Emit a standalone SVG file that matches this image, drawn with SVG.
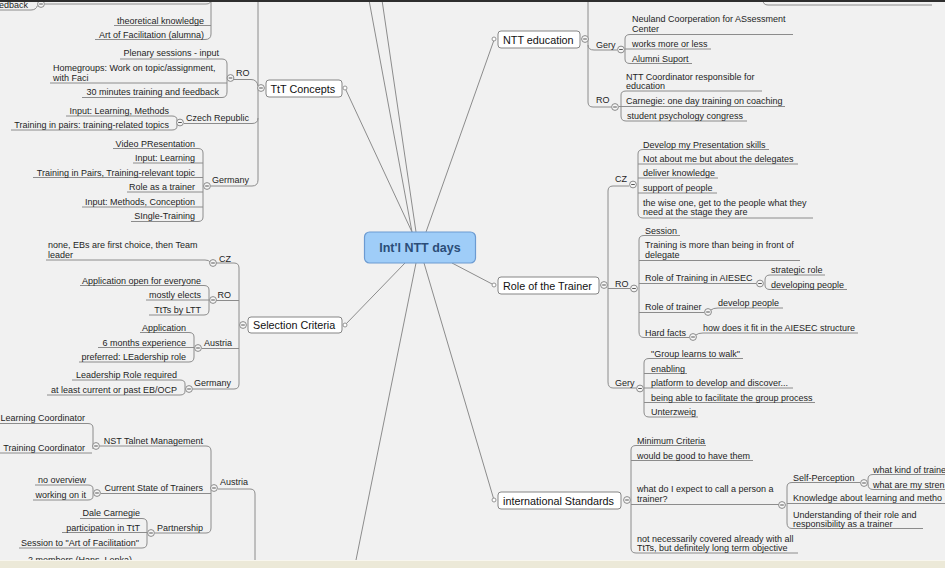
<svg xmlns="http://www.w3.org/2000/svg" xmlns:xlink="http://www.w3.org/1999/xlink" width="945" height="568" viewBox="0 0 945 568">
<style>
.ln path{fill:none;stroke:#8c8c8c;stroke-width:1}
.t{font-family:"Liberation Sans",Arial,sans-serif;font-size:9px;fill:#1e1e1e}
.e{text-anchor:end}
.m{font-family:"Liberation Sans",Arial,sans-serif;font-size:10.8px;fill:#111}
.box{fill:#ffffff;stroke:#858585;stroke-width:1}
.ctr{fill:#9fcdf8;stroke:#6c9bd2;stroke-width:1.2}
.ct{font-family:"Liberation Sans",Arial,sans-serif;font-size:12.5px;font-weight:bold;fill:#2b4d78;text-anchor:middle}
</style>
<defs>
<g id="c"><circle r="3.4" fill="#f6f6f6" stroke="#8a8a8a" stroke-width="1"/><path d="M-1.8,0H1.8" stroke="#555" stroke-width="1"/></g>
<g id="d"><circle r="2" fill="#ffffff" stroke="#8a8a8a" stroke-width="0.9"/></g>
</defs>
<rect width="945" height="568" fill="#f1f1f1"/>

<g id="connectors" class="ln">
<!-- central connectors -->
<path d="M426,232 L494,40"/>
<path d="M412,232 L345,88"/>
<path d="M412,232 L369,0"/>
<path d="M416,232 L382,0"/>
<path d="M405,263 L345,325"/>
<path d="M416,263 L356,560"/>
<path d="M424,263 L494,500"/>
<path d="M452,263 L494,285"/>
<!-- TtT Concepts branch -->
<path d="M258,0 V180 Q258,186 252,186 H211"/>
<path d="M0,10 H31 Q36,10 37.5,5.5"/>
<path d="M45,4 H206 Q211,4 211,0"/>
<path d="M211,0 V34 Q211,39.5 205,39.5 H95"/>
<path d="M114,25.5 H211"/>
<path d="M120,59 H222 Q227,59 227,64 V92 Q227,97.5 222,97.5 H82"/>
<path d="M50,83 H227"/>
<path d="M234,79.5 H251 Q257,79.5 258,86"/>
<path d="M66,116 H172 Q177,116 177,120 V126 Q177,130 172,130 H11"/>
<path d="M184,123.5 H252 Q258,123.5 258,118"/>
<path d="M113,148.5 H198 Q203,148.5 203,153 V217 Q203,221.5 198,221.5 H131"/>
<path d="M133,163 H203"/>
<path d="M33,177.5 H203"/>
<path d="M127,192 H203"/>
<path d="M82,207 H203"/>
<!-- Selection Criteria branch -->
<path d="M239,268 V384 Q239,389 234,389 H193"/>
<path d="M46,260 H205 Q209,260 210,262"/>
<path d="M216,263 H234 Q239,263 239,268"/>
<path d="M80,285.5 H204 Q209,285.5 209,290 V310 Q209,315 204,315 H149"/>
<path d="M146,300 H209"/>
<path d="M216,300.5 H239"/>
<path d="M140,332.5 H189 Q194,332.5 194,337 V357 Q194,362 189,362 H79"/>
<path d="M98,347.5 H194"/>
<path d="M202,348.5 H239"/>
<path d="M72,380 H180 Q185,380 185,384 V391 Q185,395 180,395 H47"/>
<!-- bottom-left Austria branch -->
<path d="M0,423.5 H88 Q93,423.5 93,428 V449"/>
<path d="M0,453 H92"/>
<path d="M100,446 H206 Q211,446 211,451 V528 Q211,533 206,533 H155"/>
<path d="M35,485 H88 Q93,485 93,489 V496 Q93,500 88,500 H33"/>
<path d="M101,493.5 H211"/>
<path d="M80,518.5 H142 Q147,518.5 147,523 V543 Q147,548 142,548 H19"/>
<path d="M62,532.5 H147"/>
<path d="M218,489 H250 Q255,489 255,494 V560"/>
<!-- NTT education branch -->
<path d="M588,0 V102 Q588,107 593,107 H611"/>
<path d="M588,45 Q588,50 594,50 H617"/>
<path d="M630,34.5 H793"/>
<path d="M630,34.5 Q625,34.5 625,39 V59 Q625,63.5 630,63.5 H692"/>
<path d="M625,49 H711"/>
<path d="M626,91 Q621,91 621,95 V116 Q621,121 626,121 H747"/>
<path d="M626,91 H762"/>
<path d="M619,106.5 H785"/>
<path d="M763,0 Q763,5 768,5 H932"/>
<!-- Role of the Trainer branch -->
<path d="M629,186 H613 Q608,186 608,191 V382 Q608,388 613,388 H636"/>
<path d="M608,288.5 H630"/>
<path d="M643,149.5 Q638,149.5 638,154 V213 Q638,218 643,218 H813"/>
<path d="M643,149.5 H769"/>
<path d="M638,164 H798"/>
<path d="M638,178 H718"/>
<path d="M638,193 H717"/>
<path d="M644,235.5 Q639,235.5 639,240 V332 Q639,337.5 644,337.5 H689"/>
<path d="M644,235.5 H680"/>
<path d="M639,260.5 H800"/>
<path d="M639,283.5 H756"/>
<path d="M639,312.5 H704"/>
<path d="M770,275 Q765,275 765,280 V285 Q765,289.5 770,289.5 H847"/>
<path d="M770,275 H825"/>
<path d="M711,310 Q713,308 718,308 H783"/>
<path d="M696,335 Q698,333 703,333 H858"/>
<path d="M649,358.5 Q644,358.5 644,363 V412 Q644,417 649,417 H698"/>
<path d="M649,358.5 H743"/>
<path d="M644,373.5 H687"/>
<path d="M644,388 H793"/>
<path d="M644,402.5 H815"/>
<!-- international Standards branch -->
<path d="M636,445.5 Q631,445.5 631,450 V548 Q631,553 636,553 H798"/>
<path d="M636,445.5 H706"/>
<path d="M631,460.5 H753"/>
<path d="M631,504.5 H779"/>
<path d="M792,482.5 Q787,482.5 787,487 V523 Q787,528.5 792,528.5 H923"/>
<path d="M792,482.5 H860"/>
<path d="M787,503.5 H945"/>
<path d="M873,474.5 Q868,474.5 868,479 V484 Q868,489.5 873,489.5 H945"/>
<path d="M873,474.5 H945"/>
</g>

<g id="center-node">
<rect class="ctr" x="364.5" y="232" width="111" height="31" rx="5"/>
<text class="ct" x="420" y="252">Int'l NTT days</text>
</g>

<g id="ttt-concepts">
<rect class="box" x="266" y="80" width="76" height="17" rx="3"/>
<text class="m" x="270.5" y="92.5">TtT Concepts</text>
<use href="#c" x="261" y="88"/><use href="#d" x="345" y="88"/>
</g>
<g id="ttt-top"><text class="t" x="-1" y="8">edback</text><use href="#c" x="41" y="4"/></g>
<g id="ttt-theory"><text class="t e" x="204" y="23.5">theoretical knowledge</text></g>
<g id="ttt-art"><text class="t e" x="204" y="37.5">Art of Facilitation (alumna)</text></g>
<g id="ttt-ro"><text class="t" x="236" y="76">RO</text><use href="#c" x="230.5" y="78"/></g>
<g id="ttt-ro-1"><text class="t e" x="219" y="56">Plenary sessions - input</text></g>
<g id="ttt-ro-2"><text class="t" x="53" y="71">Homegroups: Work on topic/assignment,<tspan x="53" y="80.5">with Faci</tspan></text></g>
<g id="ttt-ro-3"><text class="t e" x="219" y="95">30 minutes training and feedback</text></g>
<g id="ttt-cz"><text class="t e" x="249" y="121">Czech Republic</text><use href="#c" x="180" y="122.5"/></g>
<g id="ttt-cz-1"><text class="t e" x="169" y="113.5">Input: Learning, Methods</text></g>
<g id="ttt-cz-2"><text class="t e" x="169" y="128">Training in pairs: training-related topics</text></g>
<g id="ttt-de"><text class="t e" x="249" y="183">Germany</text><use href="#c" x="207" y="186"/></g>
<g id="ttt-de-1"><text class="t e" x="195" y="146.5">Video PResentation</text></g>
<g id="ttt-de-2"><text class="t e" x="195" y="161">Input: Learning</text></g>
<g id="ttt-de-3"><text class="t e" x="195" y="175.5">Training in Pairs, Training-relevant topic</text></g>
<g id="ttt-de-4"><text class="t e" x="195" y="190">Role as a trainer</text></g>
<g id="ttt-de-5"><text class="t e" x="195" y="205">Input: Methods, Conception</text></g>
<g id="ttt-de-6"><text class="t e" x="195" y="219">SIngle-Training</text></g>

<g id="selection-criteria">
<rect class="box" x="248" y="317" width="94" height="16" rx="3"/>
<text class="m" x="253" y="329">Selection Criteria</text>
<use href="#c" x="243" y="325"/><use href="#d" x="345" y="325"/>
</g>
<g id="sel-cz"><text class="t e" x="231" y="261.5">CZ</text><use href="#c" x="213" y="263"/></g>
<g id="sel-cz-1"><text class="t" x="48" y="248">none, EBs are first choice, then Team<tspan x="48" y="257.5">leader</tspan></text></g>
<g id="sel-ro"><text class="t e" x="231" y="298">RO</text><use href="#c" x="213" y="300"/></g>
<g id="sel-ro-1"><text class="t e" x="201" y="284">Application open for everyone</text></g>
<g id="sel-ro-2"><text class="t e" x="201" y="298">mostly elects</text></g>
<g id="sel-ro-3"><text class="t e" x="201" y="312.5">TtTs by LTT</text></g>
<g id="sel-at"><text class="t e" x="232" y="346">Austria</text><use href="#c" x="198" y="348"/></g>
<g id="sel-at-1"><text class="t e" x="186" y="331">Application</text></g>
<g id="sel-at-2"><text class="t e" x="186" y="345.5">6 months experience</text></g>
<g id="sel-at-3"><text class="t e" x="186" y="360">preferred: LEadership role</text></g>
<g id="sel-de"><text class="t e" x="231" y="386">Germany</text><use href="#c" x="189" y="389"/></g>
<g id="sel-de-1"><text class="t e" x="177" y="378">Leadership Role required</text></g>
<g id="sel-de-2"><text class="t e" x="177" y="393">at least current or past EB/OCP</text></g>

<g id="at"><text class="t e" x="248" y="485">Austria</text><use href="#c" x="214" y="488"/></g>
<g id="at-nst"><text class="t e" x="203" y="444">NST Talnet Management</text><use href="#c" x="96" y="446"/></g>
<g id="at-nst-1"><text class="t e" x="85" y="421">Learning Coordinator</text></g>
<g id="at-nst-2"><text class="t e" x="85" y="450.5">Training Coordinator</text></g>
<g id="at-cs"><text class="t e" x="203" y="491">Current State of Trainers</text><use href="#c" x="97" y="493"/></g>
<g id="at-cs-1"><text class="t e" x="86" y="483">no overview</text></g>
<g id="at-cs-2"><text class="t e" x="86" y="498">working on it</text></g>
<g id="at-pa"><text class="t e" x="203" y="530.5">Partnership</text><use href="#c" x="151" y="533"/></g>
<g id="at-pa-1"><text class="t e" x="140" y="516">Dale Carnegie</text></g>
<g id="at-pa-2"><text class="t e" x="140" y="530.5">participation in TtT</text></g>
<g id="at-pa-3"><text class="t e" x="139" y="546">Session to "Art of Facilitation"</text></g>
<g id="at-members"><text class="t" x="28" y="563">2 members (Hans, Lenka)</text></g>

<g id="ntt-education">
<rect class="box" x="498" y="31" width="82" height="17" rx="3"/>
<text class="m" x="503" y="43.5">NTT education</text>
<use href="#c" x="585" y="39"/><use href="#d" x="494" y="39"/>
</g>
<g id="ntt-gery"><text class="t" x="596" y="48">Gery</text><use href="#c" x="621" y="49.5"/></g>
<g id="ntt-gery-1"><text class="t" x="632" y="21.5">Neuland Coorperation for ASsessment<tspan x="632" y="32">Center</tspan></text></g>
<g id="ntt-gery-2"><text class="t" x="632" y="46.5">works more or less</text></g>
<g id="ntt-gery-3"><text class="t" x="632" y="61.5">Alumni Suport</text></g>
<g id="ntt-ro"><text class="t" x="596" y="103">RO</text><use href="#c" x="615" y="107"/></g>
<g id="ntt-ro-1"><text class="t" x="626" y="80">NTT Coordinator responsible for<tspan x="626" y="89">education</tspan></text></g>
<g id="ntt-ro-2"><text class="t" x="626" y="103.5">Carnegie: one day training on coaching</text></g>
<g id="ntt-ro-3"><text class="t" x="627" y="118.5">student psychology congress</text></g>

<g id="role-trainer">
<rect class="box" x="498" y="277" width="101" height="17" rx="3"/>
<text class="m" x="503" y="289.5">Role of the Trainer</text>
<use href="#c" x="604" y="285"/><use href="#d" x="494" y="285"/>
</g>
<g id="role-cz"><text class="t" x="615" y="182">CZ</text><use href="#c" x="633" y="184.5"/></g>
<g id="role-cz-1"><text class="t" x="643" y="147.5">Develop my Presentation skills</text></g>
<g id="role-cz-2"><text class="t" x="643" y="162">Not about me but about the delegates</text></g>
<g id="role-cz-3"><text class="t" x="643" y="176">deliver knowledge</text></g>
<g id="role-cz-4"><text class="t" x="643" y="191">support of people</text></g>
<g id="role-cz-5"><text class="t" x="643" y="205.5">the wise one, get to the people what they<tspan x="643" y="215">need at the stage they are</tspan></text></g>
<g id="role-ro"><text class="t" x="615" y="286.5">RO</text><use href="#c" x="634" y="288.5"/></g>
<g id="role-ro-1"><text class="t" x="645" y="233.5">Session</text></g>
<g id="role-ro-2"><text class="t" x="645" y="247.5">Training is more than being in front of<tspan x="645" y="258">delegate</tspan></text></g>
<g id="role-ro-3"><text class="t" x="645" y="281">Role of Training in AIESEC</text><use href="#c" x="760" y="283.5"/></g>
<g id="role-ro-3a"><text class="t" x="771" y="273">strategic role</text></g>
<g id="role-ro-3b"><text class="t" x="771" y="287.5">developing people</text></g>
<g id="role-ro-4"><text class="t" x="645" y="310">Role of trainer</text><use href="#c" x="708" y="312"/></g>
<g id="role-ro-4a"><text class="t" x="718" y="306">develop people</text></g>
<g id="role-ro-5"><text class="t" x="645" y="335.5">Hard facts</text><use href="#c" x="693" y="337"/></g>
<g id="role-ro-5a"><text class="t" x="703" y="331">how does it fit in the AIESEC structure</text></g>
<g id="role-gery"><text class="t" x="615" y="386">Gery</text><use href="#c" x="640" y="388.5"/></g>
<g id="role-gery-1"><text class="t" x="651" y="356.5">"Group learns to walk"</text></g>
<g id="role-gery-2"><text class="t" x="651" y="371.5">enabling</text></g>
<g id="role-gery-3"><text class="t" x="651" y="386">platform to develop and discover...</text></g>
<g id="role-gery-4"><text class="t" x="651" y="400.5">being able to facilitate the group process</text></g>
<g id="role-gery-5"><text class="t" x="651" y="415">Unterzweig</text></g>

<g id="intl-standards">
<rect class="box" x="498" y="492" width="123" height="17" rx="3"/>
<text class="m" x="503" y="504.5" textLength="111">international Standards</text>
<use href="#c" x="627" y="500"/><use href="#d" x="494" y="500"/>
</g>
<g id="is-1"><text class="t" x="637" y="443.5">Minimum Criteria</text></g>
<g id="is-2"><text class="t" x="637" y="459">would be good to have them</text></g>
<g id="is-3"><text class="t" x="637" y="491.5">what do I expect to call a person a<tspan x="637" y="502">trainer?</tspan></text><use href="#c" x="782" y="505"/></g>
<g id="is-3a"><text class="t" x="793" y="480.5">Self-Perception</text><use href="#c" x="864" y="483"/></g>
<g id="is-3a1"><text class="t" x="873" y="472.5">what kind of traine</text></g>
<g id="is-3a2"><text class="t" x="873" y="487.5">what are my stren</text></g>
<g id="is-3b"><text class="t" x="793" y="501">Knowledge about learning and metho</text></g>
<g id="is-3c"><text class="t" x="793" y="517.5">Understanding of their role and<tspan x="793" y="527">responsibility as a trainer</tspan></text></g>
<g id="is-4"><text class="t" x="637" y="541.5">not necessarily covered already with all<tspan x="637" y="551">TtTs, but definitely long term objective</tspan></text></g>

<rect x="0" y="560" width="945" height="8" fill="#ece9d8"/>
<path d="M0,560.5 H945" stroke="#f8f6ee" stroke-width="1"/>
<path d="M0,1 H945" stroke="#2e2e2e" stroke-width="2"/>
</svg>
